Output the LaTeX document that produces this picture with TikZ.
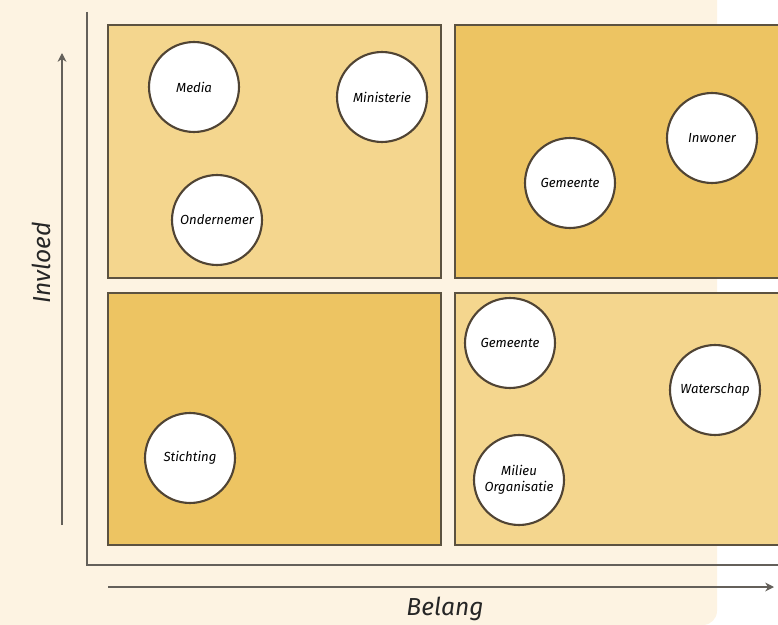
\documentclass[tikz,border=0pt]{standalone}
\usepackage{fontspec}
\setmainfont{Fira Sans}
\usepackage{tikz}
\usetikzlibrary{arrows.meta, positioning}
\usepackage{xcolor}
\definecolor{creambg}{RGB}{253,243,226}
\definecolor{quadlight}{RGB}{244,214,142}
\definecolor{quaddark}{RGB}{237,196,98}
\definecolor{boxline}{RGB}{92,82,64}
\definecolor{ringline}{RGB}{80,68,52}
\definecolor{axisgray}{RGB}{100,96,90}

\begin{document}
\begin{tikzpicture}[
    x=0.02cm, y=-0.02cm,
    >=Stealth,
    quadrant/.style={draw=boxline, line width=1pt, fill=#1},
    actor/.style={circle, draw=ringline, line width=1.2pt, fill=white,
                  minimum size=1.8cm, inner sep=0pt, align=center,
                  font=\itshape\fontsize{7.5}{9}\selectfont},
    frame/.style={line width=0.9pt, draw=axisgray},
    arr/.style={-{Stealth[length=5pt, width=5pt]}, line width=0.9pt, draw=axisgray},
    axislabel/.style={font=\itshape\fontsize{14}{16}\selectfont, text=black!85},
]
    \useasboundingbox (0,0) rectangle (778,625);
    \clip (0,0) rectangle (778,625);

    % Background panel
    \fill[creambg, rounded corners=8pt] (-30,-30) rectangle (717,625);

    % Quadrants
    \draw[quadrant=quadlight] (108,25)  rectangle (441,278);
    \draw[quadrant=quaddark]  (455,25)  rectangle (800,278);
    \draw[quadrant=quaddark]  (108,293) rectangle (441,545);
    \draw[quadrant=quadlight] (455,293) rectangle (800,545);

    % Frame round the matrix
    \coordinate (frameTop) at (87,12);
    \coordinate (frameCorner) at (87,565);
    \coordinate (frameRight) at (790,565);
    \draw[frame] (frameTop) -- (frameCorner) -- (frameRight);

    % Axes
    \coordinate (yStart) at (62,525);
    \coordinate (yEnd) at (62,53);
    \coordinate (xStart) at (108,587);
    \coordinate (xEnd) at (774,587);
    \draw[arr] (yStart) -- (yEnd);
    \draw[arr] (xStart) -- (xEnd);

    \node[axislabel, rotate=90] (invloed) at (41,263) {Invloed};
    \node[axislabel] (belang) at (445,609) {Belang};

    % Stakeholders, top left
    \node[actor] (media) at (194,87) {Media};
    \node[actor] (ministerie) at (382,97) {Ministerie};
    \node[actor] (ondernemer) at (217,220) {Ondernemer};

    % Stakeholders, top right
    \node[actor] (gemeenteA) at (570,183) {Gemeente};
    \node[actor] (inwoner) at (712,138) {Inwoner};

    % Stakeholders, bottom left
    \node[actor] (stichting) at (190,458) {Stichting};

    % Stakeholders, bottom right
    \node[actor] (gemeenteB) at (510,343) {Gemeente};
    \node[actor] (waterschap) at (715,390) {Waterschap};
    \node[actor] (milieu) at (519,480) {Milieu\\Organisatie};
\end{tikzpicture}
\end{document}
